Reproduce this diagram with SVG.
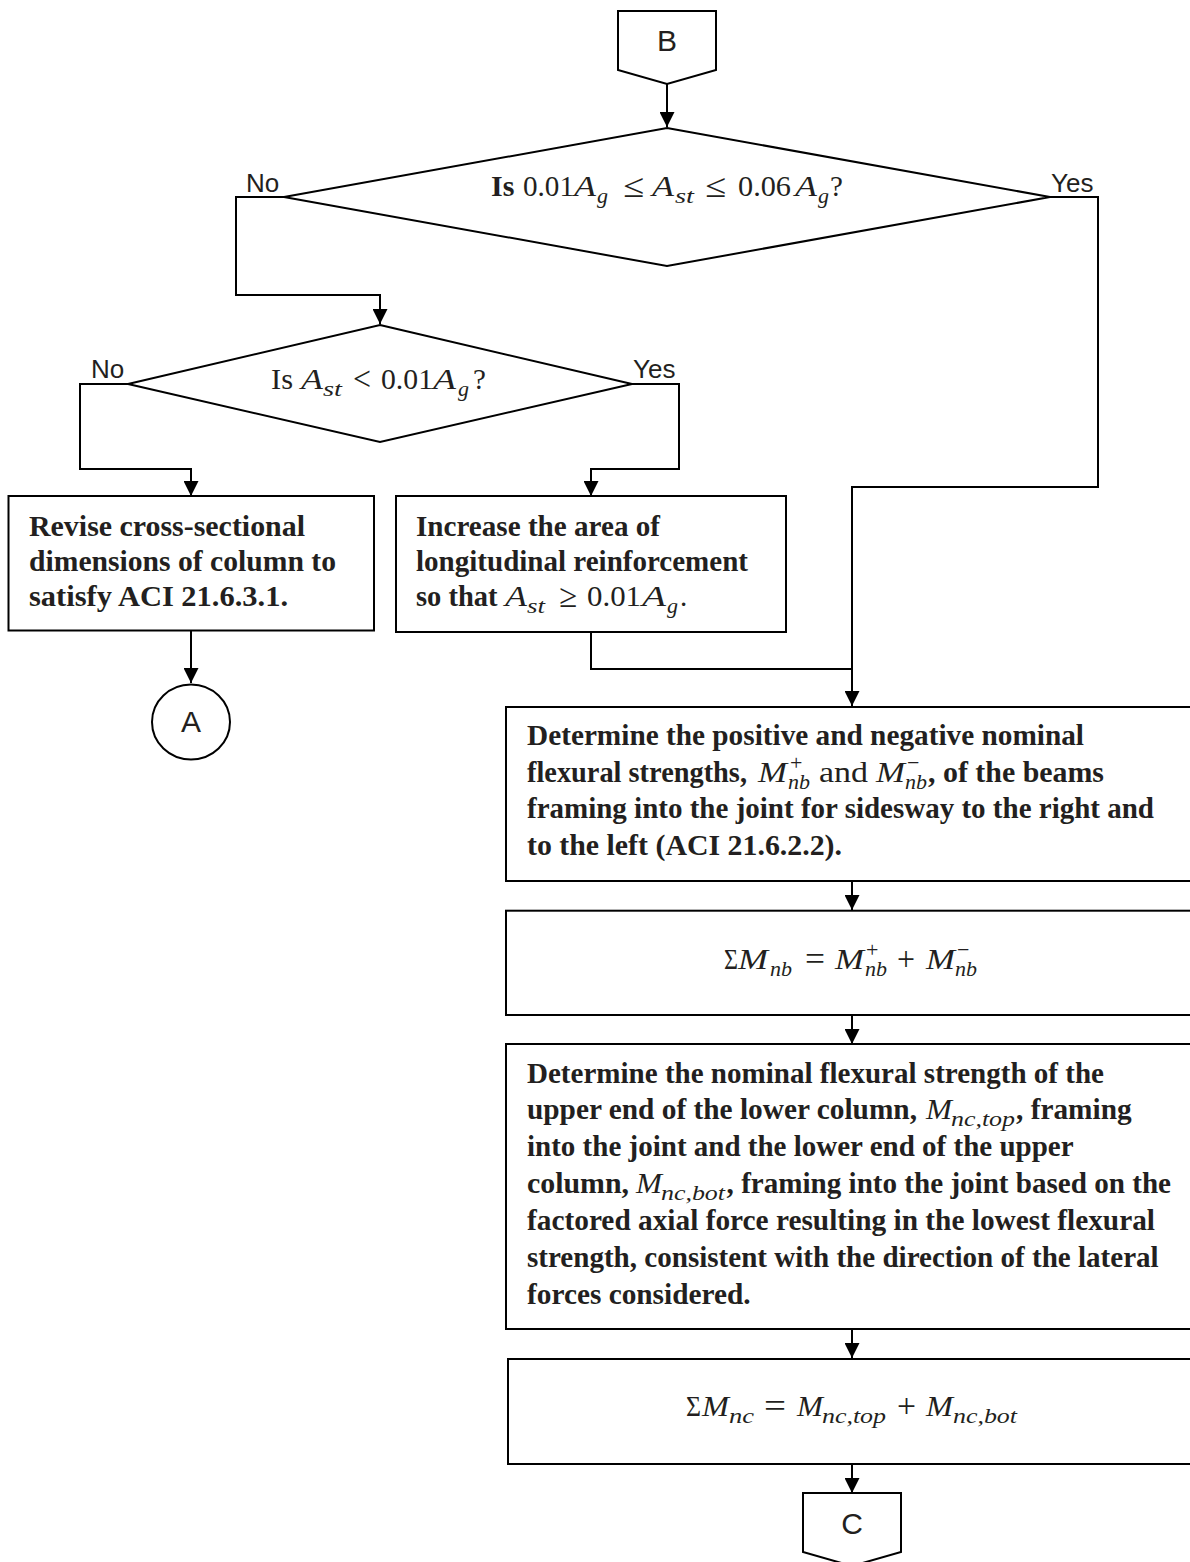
<svg xmlns="http://www.w3.org/2000/svg" width="1190" height="1562" viewBox="0 0 1190 1562">
<style>
.shape{fill:#fff;stroke:#000;stroke-width:2}
.ln{fill:none;stroke:#000;stroke-width:2}
.b{font-family:"Liberation Serif",serif;font-weight:bold;font-size:30px;fill:#231f20}
.r{font-family:"Liberation Serif",serif;font-size:29px;fill:#231f20}
.op{font-family:"Liberation Serif",serif;font-size:33px;fill:#231f20}
.m{font-family:"Liberation Serif",serif;font-style:italic;font-size:29px;fill:#231f20}
.s{font-family:"Liberation Serif",serif;font-style:italic;font-size:21px;fill:#231f20}
.sp{font-family:"Liberation Serif",serif;font-size:22px;fill:#231f20}
.lbl{font-family:"Liberation Sans",Arial,sans-serif;font-size:26px;fill:#231f20}
.con{font-family:"Liberation Sans",Arial,sans-serif;font-size:30px;fill:#231f20;text-anchor:middle}
</style>
<defs>
<marker id="arr" markerUnits="userSpaceOnUse" markerWidth="15" markerHeight="15" refX="15" refY="7.5" orient="auto">
<path d="M0,0 L15,7.5 L0,15 z" fill="#000"/>
</marker>
</defs>

<g id="connectors">
<path class="ln" d="M667,84 V127" marker-end="url(#arr)"/>
<path class="ln" d="M284,197 H236 V295 H380 V324" marker-end="url(#arr)"/>
<path class="ln" d="M1050,197 H1098 V487 H852 V706" marker-end="url(#arr)"/>
<path class="ln" d="M128,384 H80 V469 H191 V496" marker-end="url(#arr)"/>
<path class="ln" d="M632,384 H679 V469 H591 V496" marker-end="url(#arr)"/>
<path class="ln" d="M191,631 V683" marker-end="url(#arr)"/>
<path class="ln" d="M591,632 V669 H852"/>
<path class="ln" d="M852,881 V910" marker-end="url(#arr)"/>
<path class="ln" d="M852,1015 V1044" marker-end="url(#arr)"/>
<path class="ln" d="M852,1329 V1358" marker-end="url(#arr)"/>
<path class="ln" d="M852,1464 V1493" marker-end="url(#arr)"/>
</g>

<g id="nodeB">
<path class="shape" d="M618,11 H716 V70 L667,84 L618,70 Z"/>
<text class="con" x="667" y="51">B</text>
</g>

<g id="decision1">
<path class="shape" d="M667,128 L1050,197 L667,266 L284,197 Z"/>
<text class="b" x="491" y="196">Is</text>
<text class="r" x="523" y="196" textLength="51" lengthAdjust="spacingAndGlyphs">0.01</text>
<text class="m" x="574" y="196" textLength="22" lengthAdjust="spacingAndGlyphs">A</text>
<text class="s" x="597" y="203" textLength="11" lengthAdjust="spacingAndGlyphs">g</text>
<text class="op" x="623" y="197" textLength="21" lengthAdjust="spacingAndGlyphs">≤</text>
<text class="m" x="652" y="196" textLength="22" lengthAdjust="spacingAndGlyphs">A</text>
<text class="s" x="675" y="203" textLength="19" lengthAdjust="spacingAndGlyphs">st</text>
<text class="op" x="705" y="197" textLength="21" lengthAdjust="spacingAndGlyphs">≤</text>
<text class="r" x="738" y="196" textLength="53" lengthAdjust="spacingAndGlyphs">0.06</text>
<text class="m" x="795" y="196" textLength="22" lengthAdjust="spacingAndGlyphs">A</text>
<text class="s" x="818" y="203" textLength="11" lengthAdjust="spacingAndGlyphs">g</text>
<text class="r" x="830" y="196">?</text>
<text class="lbl" x="246" y="192">No</text>
<text class="lbl" x="1051" y="192">Yes</text>
</g>

<g id="decision2">
<path class="shape" d="M380,325 L632,384 L380,442 L128,384 Z"/>
<text class="r" x="271" y="389" textLength="22" lengthAdjust="spacingAndGlyphs">Is</text>
<text class="m" x="301" y="389" textLength="22" lengthAdjust="spacingAndGlyphs">A</text>
<text class="s" x="323" y="396" textLength="19" lengthAdjust="spacingAndGlyphs">st</text>
<text class="op" x="353" y="390" textLength="18" lengthAdjust="spacingAndGlyphs">&lt;</text>
<text class="r" x="381" y="389" textLength="52" lengthAdjust="spacingAndGlyphs">0.01</text>
<text class="m" x="433" y="389" textLength="23" lengthAdjust="spacingAndGlyphs">A</text>
<text class="s" x="458" y="396" textLength="11" lengthAdjust="spacingAndGlyphs">g</text>
<text class="r" x="473" y="389">?</text>
<text class="lbl" x="91" y="378">No</text>
<text class="lbl" x="633" y="378">Yes</text>
</g>

<g id="revise">
<rect class="shape" x="8.5" y="496" width="365.5" height="134.5"/>
<text class="b" x="29" y="536" textLength="276" lengthAdjust="spacingAndGlyphs">Revise cross-sectional</text>
<text class="b" x="29" y="571" textLength="307" lengthAdjust="spacingAndGlyphs">dimensions of column to</text>
<text class="b" x="29" y="606" textLength="259" lengthAdjust="spacingAndGlyphs">satisfy ACI 21.6.3.1.</text>
</g>

<g id="increase">
<rect class="shape" x="396" y="496" width="390" height="136"/>
<text class="b" x="416" y="536" textLength="244" lengthAdjust="spacingAndGlyphs">Increase the area of</text>
<text class="b" x="416" y="571" textLength="332" lengthAdjust="spacingAndGlyphs">longitudinal reinforcement</text>
<text class="b" x="416" y="606" textLength="81.5" lengthAdjust="spacingAndGlyphs">so that</text>
<text class="m" x="505" y="606" textLength="22" lengthAdjust="spacingAndGlyphs">A</text>
<text class="s" x="527" y="613" textLength="18" lengthAdjust="spacingAndGlyphs">st</text>
<text class="op" x="559" y="607" textLength="18" lengthAdjust="spacingAndGlyphs">≥</text>
<text class="r" x="587" y="606" textLength="54" lengthAdjust="spacingAndGlyphs">0.01</text>
<text class="m" x="642" y="606" textLength="24" lengthAdjust="spacingAndGlyphs">A</text>
<text class="s" x="667" y="613" textLength="11" lengthAdjust="spacingAndGlyphs">g</text>
<text class="r" x="680" y="606">.</text>
</g>

<g id="nodeA">
<ellipse class="shape" cx="191" cy="722" rx="39" ry="37.5"/>
<text class="con" x="191" y="732">A</text>
</g>

<g id="determine1">
<rect class="shape" x="506" y="707" width="700" height="174"/>
<text class="b" x="527" y="745" textLength="557" lengthAdjust="spacingAndGlyphs">Determine the positive and negative nominal</text>
<text class="b" x="527" y="781.5" textLength="220" lengthAdjust="spacingAndGlyphs">flexural strengths,</text>
<text class="m" x="758" y="781.5" textLength="29" lengthAdjust="spacingAndGlyphs">M</text>
<text class="sp" x="790" y="770">+</text>
<text class="s" x="788" y="789" textLength="22" lengthAdjust="spacingAndGlyphs">nb</text>
<text class="r" x="819" y="781.5" textLength="49" lengthAdjust="spacingAndGlyphs">and</text>
<text class="m" x="876" y="781.5" textLength="29" lengthAdjust="spacingAndGlyphs">M</text>
<text class="sp" x="907" y="770">−</text>
<text class="s" x="905" y="789" textLength="22" lengthAdjust="spacingAndGlyphs">nb</text>
<text class="b" x="928" y="781.5" textLength="176" lengthAdjust="spacingAndGlyphs">, of the beams</text>
<text class="b" x="527" y="818" textLength="627" lengthAdjust="spacingAndGlyphs">framing into the joint for sidesway to the right and</text>
<text class="b" x="527" y="854.5" textLength="315" lengthAdjust="spacingAndGlyphs">to the left (ACI 21.6.2.2).</text>
</g>

<g id="sumMnb">
<rect class="shape" x="506" y="910.7" width="700" height="104.3"/>
<text class="r" x="724" y="969" textLength="14" lengthAdjust="spacingAndGlyphs">Σ</text>
<text class="m" x="738" y="969" textLength="30" lengthAdjust="spacingAndGlyphs">M</text>
<text class="s" x="770" y="976" textLength="22" lengthAdjust="spacingAndGlyphs">nb</text>
<text class="op" x="805" y="970" textLength="20" lengthAdjust="spacingAndGlyphs">=</text>
<text class="m" x="835" y="969" textLength="29" lengthAdjust="spacingAndGlyphs">M</text>
<text class="sp" x="866" y="957">+</text>
<text class="s" x="865" y="976" textLength="22" lengthAdjust="spacingAndGlyphs">nb</text>
<text class="op" x="897" y="970" textLength="18" lengthAdjust="spacingAndGlyphs">+</text>
<text class="m" x="926" y="969" textLength="29" lengthAdjust="spacingAndGlyphs">M</text>
<text class="sp" x="957" y="957">−</text>
<text class="s" x="955" y="976" textLength="22" lengthAdjust="spacingAndGlyphs">nb</text>
</g>

<g id="determine2">
<rect class="shape" x="506" y="1044" width="700" height="285"/>
<text class="b" x="527" y="1082.5" textLength="577" lengthAdjust="spacingAndGlyphs">Determine the nominal flexural strength of the</text>
<text class="b" x="527" y="1119.4" textLength="390" lengthAdjust="spacingAndGlyphs">upper end of the lower column,</text>
<text class="m" x="926" y="1119.4" textLength="26" lengthAdjust="spacingAndGlyphs">M</text>
<text class="s" x="951" y="1126.4" textLength="64" lengthAdjust="spacingAndGlyphs">nc,top</text>
<text class="b" x="1016" y="1119.4" textLength="115.6" lengthAdjust="spacingAndGlyphs">, framing</text>
<text class="b" x="527" y="1156.3" textLength="546.6" lengthAdjust="spacingAndGlyphs">into the joint and the lower end of the upper</text>
<text class="b" x="527" y="1193.2" textLength="102" lengthAdjust="spacingAndGlyphs">column,</text>
<text class="m" x="636" y="1193.2" textLength="26" lengthAdjust="spacingAndGlyphs">M</text>
<text class="s" x="661" y="1200.2" textLength="64" lengthAdjust="spacingAndGlyphs">nc,bot</text>
<text class="b" x="726.6" y="1193.2" textLength="444.4" lengthAdjust="spacingAndGlyphs">, framing into the joint based on the</text>
<text class="b" x="527" y="1230.1" textLength="628" lengthAdjust="spacingAndGlyphs">factored axial force resulting in the lowest flexural</text>
<text class="b" x="527" y="1267" textLength="631.7" lengthAdjust="spacingAndGlyphs">strength, consistent with the direction of the lateral</text>
<text class="b" x="527" y="1303.9" textLength="223.6" lengthAdjust="spacingAndGlyphs">forces considered.</text>
</g>

<g id="sumMnc">
<rect class="shape" x="508" y="1359" width="700" height="105"/>
<text class="r" x="686" y="1416" textLength="15" lengthAdjust="spacingAndGlyphs">Σ</text>
<text class="m" x="702" y="1416" textLength="27" lengthAdjust="spacingAndGlyphs">M</text>
<text class="s" x="729" y="1423" textLength="25" lengthAdjust="spacingAndGlyphs">nc</text>
<text class="op" x="764" y="1417" textLength="22" lengthAdjust="spacingAndGlyphs">=</text>
<text class="m" x="797" y="1416" textLength="26" lengthAdjust="spacingAndGlyphs">M</text>
<text class="s" x="822" y="1423" textLength="64" lengthAdjust="spacingAndGlyphs">nc,top</text>
<text class="op" x="897" y="1417" textLength="19" lengthAdjust="spacingAndGlyphs">+</text>
<text class="m" x="926" y="1416" textLength="27" lengthAdjust="spacingAndGlyphs">M</text>
<text class="s" x="953" y="1423" textLength="64" lengthAdjust="spacingAndGlyphs">nc,bot</text>
</g>

<g id="nodeC">
<path class="shape" d="M803,1493 H901 V1552 L852,1566 L803,1552 Z"/>
<text class="con" x="852" y="1534">C</text>
</g>
</svg>
